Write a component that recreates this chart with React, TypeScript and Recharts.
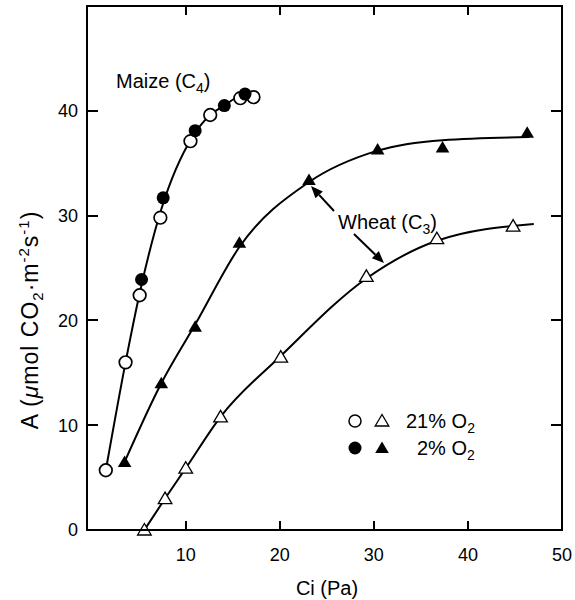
import React from "react";
import { ComposedChart, Line, Scatter, XAxis, YAxis } from "recharts";

// Maize (C4) – gas exchange points
const maizeCi21 = [1.5, 3.6, 5.1, 7.3, 10.5, 12.6, 15.8, 17.2];
const maizeA21 = [5.7, 16.0, 22.4, 29.8, 37.1, 39.6, 41.2, 41.3];
const maizeCi2 = [5.3, 7.6, 11.0, 14.1, 16.3];
const maizeA2 = [23.9, 31.7, 38.1, 40.5, 41.6];

// Wheat (C3)
const wheatCi21 = [5.6, 7.8, 10.0, 13.7, 20.1, 29.2, 36.7, 44.8];
const wheatA21 = [0.0, 3.0, 5.9, 10.8, 16.5, 24.2, 27.8, 29.0];
const wheatCi2 = [3.5, 7.4, 11.0, 15.7, 23.1, 30.4, 37.3, 46.3];
const wheatA2 = [6.5, 14.0, 19.4, 27.4, 33.4, 36.3, 36.5, 37.9];

// fitted curves as drawn in the figure
const maizeFitCi = [1.5, 3.6, 5.2, 7.4, 10.7, 12.6, 14.1, 15.8, 17.2];
const maizeFitA = [5.7, 16.0, 23.0, 30.6, 37.5, 39.6, 40.5, 41.4, 41.5];
const wheat2FitCi = [3.5, 7.4, 11.0, 15.7, 23.1, 30.4, 37.3, 46.5];
const wheat2FitA = [6.5, 14.0, 19.6, 27.0, 33.2, 36.2, 37.2, 37.5];
const wheat21FitCi = [5.6, 7.8, 10.0, 13.7, 20.1, 29.2, 36.7, 47.0];
const wheat21FitA = [0.0, 3.0, 5.9, 10.8, 16.6, 24.0, 27.6, 29.2];

const xTicks = [10, 20, 30, 40, 50];
const yTicks = [0, 10, 20, 30, 40];
const xMin = -0.5;
const xMax = 50;
const yMax = 50;

// plot box (matches chart margins / axis sizes below)
const W = 575;
const H = 600;
const M = { top: 6, right: 13, bottom: 0, left: 0 };
const Y_AXIS_W = 87;
const X_AXIS_H = 70;
const L = M.left + Y_AXIS_W;
const R = W - M.right;
const T = M.top;
const B = H - M.bottom - X_AXIS_H;
const sx = (v: number) => L + ((v - xMin) / (xMax - xMin)) * (R - L);
const sy = (v: number) => B - (v / yMax) * (B - T);

const FONT = "'Liberation Sans', Arial, Helvetica, sans-serif";

const pts = (xs: number[], ys: number[]) => xs.map((x, i) => ({ x, y: ys[i] }));

const OpenCircle = (p: any) => (
    <circle cx={p.cx} cy={p.cy} r={6.3} fill="#fff" stroke="#000" strokeWidth={1.7} />
);
const FilledCircle = (p: any) => <circle cx={p.cx} cy={p.cy} r={6.5} fill="#000" />;
const tri = (cx: number, cy: number) => `${cx},${cy - 6.5} ${cx - 6.8},${cy + 5} ${cx + 6.8},${cy + 5}`;
const OpenTriangle = (p: any) => (
    <polygon points={tri(p.cx, p.cy)} fill="#fff" stroke="#000" strokeWidth={1.3} />
);
const FilledTriangle = (p: any) => <polygon points={tri(p.cx, p.cy)} fill="#000" />;

const Arrow = ({ x1, y1, x2, y2 }: { x1: number; y1: number; x2: number; y2: number }) => {
    const a = Math.atan2(y2 - y1, x2 - x1);
    const len = 12;
    const w = 5;
    const bx = x2 - len * Math.cos(a);
    const by = y2 - len * Math.sin(a);
    const px = -Math.sin(a) * w;
    const py = Math.cos(a) * w;
    return (
        <g>
            <line x1={x1} y1={y1} x2={bx} y2={by} stroke="#000" strokeWidth={2} />
            <polygon points={`${x2},${y2} ${bx + px},${by + py} ${bx - px},${by - py}`} fill="#000" />
        </g>
    );
};

// small filled bar used for inward tick marks
const TickBar = ({ x, y, w, h }: { x: number; y: number; w: number; h: number }) => (
    <div style={{ position: "absolute", left: x, top: y, width: w, height: h, background: "#000" }} />
);

const axisLine = { stroke: "#000", strokeWidth: 2 };
const tickFont = { fontSize: 18, fill: "#000", fontFamily: FONT };
const TICK = 9;

const App: React.FC = () => {
    const innerX = xTicks.filter((t) => t < xMax);
    const innerY = yTicks.filter((t) => t > 0);
    return (
        <div style={{ position: "absolute", left: 0, top: 0, width: W, height: H, background: "#fff" }}>
            <ComposedChart width={W} height={H} margin={M}>
                <XAxis
                    type="number"
                    dataKey="x"
                    domain={[xMin, xMax]}
                    ticks={xTicks}
                    height={X_AXIS_H}
                    axisLine={axisLine}
                    tickLine={false}
                    tickSize={0}
                    tickMargin={18}
                    tick={tickFont}
                />
                <YAxis
                    type="number"
                    domain={[0, yMax]}
                    ticks={yTicks}
                    width={Y_AXIS_W}
                    axisLine={axisLine}
                    tickLine={false}
                    tickSize={0}
                    tickMargin={9}
                    tick={tickFont}
                />

                <Line data={pts(maizeFitCi, maizeFitA)} dataKey="y" type="monotone"
                    stroke="#000" strokeWidth={2} dot={false} isAnimationActive={false} />
                <Line data={pts(wheat2FitCi, wheat2FitA)} dataKey="y" type="monotone"
                    stroke="#000" strokeWidth={2} dot={false} isAnimationActive={false} />
                <Line data={pts(wheat21FitCi, wheat21FitA)} dataKey="y" type="monotone"
                    stroke="#000" strokeWidth={2} dot={false} isAnimationActive={false} />

                <Scatter data={pts(maizeCi21, maizeA21)} dataKey="y" shape={OpenCircle} isAnimationActive={false} />
                <Scatter data={pts(maizeCi2, maizeA2)} dataKey="y" shape={FilledCircle} isAnimationActive={false} />
                <Scatter data={pts(wheatCi21, wheatA21)} dataKey="y" shape={OpenTriangle} isAnimationActive={false} />
                <Scatter data={pts(wheatCi2, wheatA2)} dataKey="y" shape={FilledTriangle} isAnimationActive={false} />
            </ComposedChart>

            {/* plot frame + inward ticks, drawn as plain HTML boxes */}
            <div
                style={{
                    position: "absolute",
                    left: L - 1,
                    top: T - 1,
                    width: R - L + 2,
                    height: B - T + 2,
                    border: "2px solid #000",
                    boxSizing: "border-box",
                    pointerEvents: "none",
                }}
            />
            {innerX.map((t) => (
                <React.Fragment key={`x${t}`}>
                    <TickBar x={Math.round(sx(t)) - 1} y={B - TICK} w={2} h={TICK} />
                    <TickBar x={Math.round(sx(t)) - 1} y={T} w={2} h={TICK} />
                </React.Fragment>
            ))}
            {innerY.map((t) => (
                <React.Fragment key={`y${t}`}>
                    <TickBar x={L} y={Math.round(sy(t)) - 1} w={TICK + 2} h={2} />
                    <TickBar x={R - TICK - 2} y={Math.round(sy(t)) - 1} w={TICK + 2} h={2} />
                </React.Fragment>
            ))}

            <svg width={W} height={H} style={{ position: "absolute", left: 0, top: 0, pointerEvents: "none" }}
                fontFamily={FONT}>
                {/* axis titles */}
                <text x={327} y={595} fontSize={20} textAnchor="middle" fill="#000">Ci (Pa)</text>
                <text transform="translate(38,320) rotate(-90)" fontSize={23} letterSpacing={1} textAnchor="middle" fill="#000">
                    A (<tspan fontStyle="italic">μ</tspan>mol CO<tspan fontSize={15} dy={5}>2</tspan>
                    <tspan dy={-5}>·m</tspan><tspan fontSize={15} dy={-9}>-2</tspan>
                    <tspan dy={9}>s</tspan><tspan fontSize={15} dy={-9}>-1</tspan><tspan dy={9}>)</tspan>
                </text>

                {/* annotations */}
                <text x={116} y={88} fontSize={20} fill="#000">
                    Maize (C<tspan fontSize={14} dy={5}>4</tspan><tspan dy={-5}>)</tspan>
                </text>
                <text x={338} y={229} fontSize={20} fill="#000">
                    Wheat (C<tspan fontSize={14} dy={5}>3</tspan><tspan dy={-5}>)</tspan>
                </text>
                <Arrow x1={334} y1={211} x2={311} y2={186} />
                <Arrow x1={354} y1={234} x2={384} y2={263} />

                {/* legend */}
                <circle cx={355} cy={421} r={6} fill="#fff" stroke="#000" strokeWidth={1.5} />
                <polygon points={tri(382, 421)} fill="#fff" stroke="#000" strokeWidth={1.3} />
                <text x={406} y={428} fontSize={20} fill="#000">
                    21% O<tspan fontSize={14} dy={5}>2</tspan>
                </text>
                <circle cx={355} cy={448} r={6.5} fill="#000" />
                <polygon points={tri(382, 448)} fill="#000" />
                <text x={417} y={455} fontSize={20} fill="#000">
                    2% O<tspan fontSize={14} dy={5}>2</tspan>
                </text>
            </svg>
        </div>
    );
};

export default App;
